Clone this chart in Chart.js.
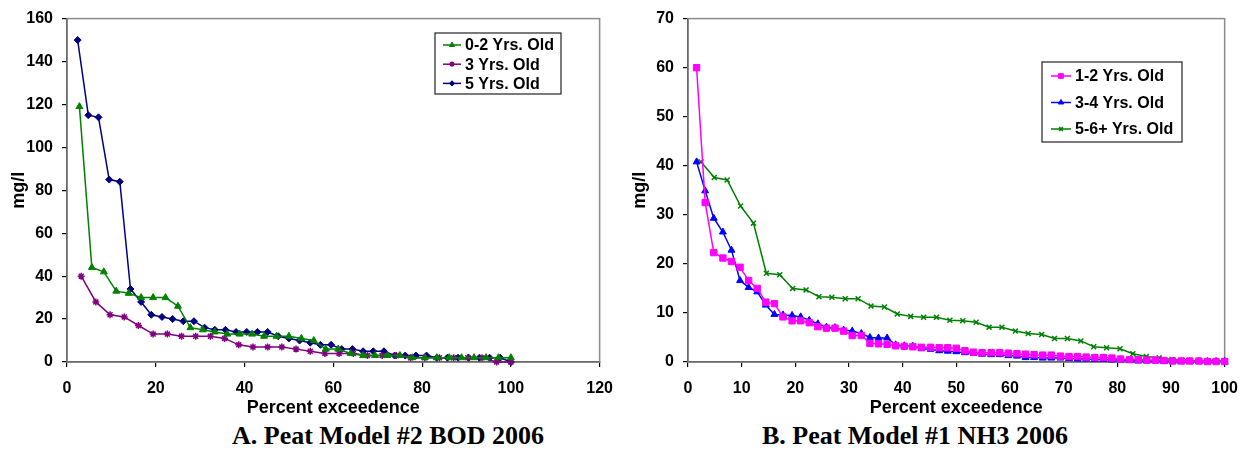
<!DOCTYPE html>
<html>
<head>
<meta charset="utf-8">
<script src="https://cdn.jsdelivr.net/npm/chart.js@4.4.1/dist/chart.umd.min.js"></script>
<style>
  html, body { margin: 0; padding: 0; background: #fff; }
  body { width: 1250px; height: 457px; position: relative; overflow: hidden; }
  .panel { position: absolute; top: 0; width: 625px; height: 420px; }
  #panelA { left: 0; }
  #panelB { left: 625px; }
  .caption {
    position: absolute; top: 421px; line-height: 26px;
    font: bold 26px "Liberation Serif", "Times New Roman", serif;
    white-space: nowrap; transform: translateX(-50%);
  }
</style>
</head>
<body>
<div class="panel" id="panelA"><canvas id="bodChart"></canvas></div>
<div class="panel" id="panelB"><canvas id="nh3Chart"></canvas></div>
<div class="caption" style="left:388px">A. Peat Model #2 BOD 2006</div>
<div class="caption" style="left:915px">B. Peat Model #1 NH3 2006</div>

<script>
// ---------- Data: Peat Model #2, BOD (mg/l) vs percent exceedence ----------
const bodLabels = ['0-2 Yrs. Old', '3 Yrs. Old', '5 Yrs. Old'];

const bodPct02 = [2.8, 5.6, 8.3, 11.1, 13.9, 16.7, 19.4, 22.2, 25.0, 27.8, 30.6, 33.3,
  36.1, 38.9, 41.7, 44.4, 47.2, 50.0, 52.8, 55.6, 58.3, 61.1, 63.9, 66.7, 69.4, 72.2,
  75.0, 77.8, 80.6, 83.3, 86.1, 88.9, 91.7, 94.4, 97.2, 100];
const bodVal02 = [119, 44, 42, 33, 32, 30, 30, 30, 26, 16, 15, 14, 13, 13, 13, 12, 12, 12,
  11, 10, 6, 6, 4, 3, 3, 3, 3, 2, 2, 2, 2, 2, 2, 2, 2, 2];

const bodPct3 = [3.2, 6.5, 9.7, 12.9, 16.1, 19.4, 22.6, 25.8, 29.0, 32.3, 35.5, 38.7, 41.9,
  45.2, 48.4, 51.6, 54.8, 58.1, 61.3, 64.5, 67.7, 71.0, 74.2, 77.4, 80.6, 83.9, 87.1, 90.3,
  93.5, 96.8, 100];
const bodVal3 = [40, 28, 22, 21, 17, 13, 13, 12, 12, 12, 11, 8, 7, 7, 7, 6, 5, 4, 4, 4, 3, 3,
  3, 2, 2, 2, 2, 2, 2, 0, 0];

const bodPct5 = [2.4, 4.8, 7.1, 9.5, 11.9, 14.3, 16.7, 19.0, 21.4, 23.8, 26.2, 28.6, 31.0,
  33.3, 35.7, 38.1, 40.5, 42.9, 45.2, 47.6, 50.0, 52.4, 54.8, 57.1, 59.5, 61.9, 64.3, 66.7,
  69.0, 71.4, 73.8, 76.2, 78.6, 81.0, 83.3, 85.7, 88.1, 90.5, 92.9, 95.2, 97.6, 100];
const bodVal5 = [150, 115, 114, 85, 84, 34, 28, 22, 21, 20, 19, 19, 16, 15, 15, 14, 14, 14,
  14, 12, 11, 10, 9, 8, 8, 6, 6, 5, 5, 5, 3, 3, 3, 3, 2, 2, 2, 2, 2, 2, 2, 0];

const bodXTicks = [0, 20, 40, 60, 80, 100, 120];
const bodYTicks = [0, 20, 40, 60, 80, 100, 120, 140, 160];

// ---------- Data: Peat Model #1, NH3 (mg/l) vs percent exceedence ----------
const nh3Labels = ['1-2 Yrs. Old', '3-4 Yrs. Old', '5-6+ Yrs. Old'];

const nh3Pct62 = [1.6, 3.2, 4.8, 6.5, 8.1, 9.7, 11.3, 12.9, 14.5, 16.1, 17.7, 19.4, 21.0,
  22.6, 24.2, 25.8, 27.4, 29.0, 30.6, 32.3, 33.9, 35.5, 37.1, 38.7, 40.3, 41.9, 43.5, 45.2,
  46.8, 48.4, 50.0, 51.6, 53.2, 54.8, 56.5, 58.1, 59.7, 61.3, 62.9, 64.5, 66.1, 67.7, 69.4,
  71.0, 72.6, 74.2, 75.8, 77.4, 79.0, 80.6, 82.3, 83.9, 85.5, 87.1, 88.7, 90.3, 91.9, 93.5,
  95.2, 96.8, 98.4, 100];
const nh3Val12 = [60, 32.5, 22.3, 21.2, 20.5, 19.3, 16.6, 15.0, 12.2, 11.9, 9.2, 8.4, 8.4,
  8.0, 7.2, 6.9, 6.9, 6.3, 5.4, 5.4, 3.8, 3.7, 3.6, 3.3, 3.2, 3.1, 3.0, 3.0, 2.9, 2.9, 2.8,
  2.3, 2.0, 1.9, 1.9, 1.9, 1.8, 1.7, 1.6, 1.5, 1.4, 1.4, 1.2, 1.1, 1.1, 1.0, 0.9, 0.9, 0.8,
  0.6, 0.5, 0.5, 0.4, 0.4, 0.3, 0.2, 0.2, 0.2, 0.2, 0.1, 0.1, 0.1];
const nh3Val34 = [40.8, 34.9, 29.3, 26.5, 22.8, 16.6, 15.2, 14.3, 11.6, 9.7, 9.6, 9.5, 9.2,
  8.5, 7.8, 7.1, 7.0, 6.5, 6.3, 5.8, 5.0, 4.9, 4.9, 3.5, 3.3, 3.2, 2.7, 2.6, 2.3, 2.2, 2.1,
  1.9, 1.8, 1.6, 1.5, 1.5, 1.3, 1.2, 0.9, 0.9, 0.8, 0.8, 0.8, 0.7, 0.6, 0.6, 0.5, 0.5, 0.4,
  0.4, 0.3, 0.2, 0.2, 0.2, 0.1, 0.1, 0.1, 0.1, 0.1, 0.1, 0.1, 0.1];

const nh3Pct56 = [2.4, 4.9, 7.3, 9.8, 12.2, 14.6, 17.1, 19.5, 22.0, 24.4, 26.8, 29.3, 31.7,
  34.1, 36.6, 39.0, 41.5, 43.9, 46.3, 48.8, 51.2, 53.7, 56.1, 58.5, 61.0, 63.4, 65.9, 68.3,
  70.7, 73.2, 75.6, 78.0, 80.5, 82.9, 85.4, 87.8, 90.2, 92.7, 95.1, 97.6, 100];
const nh3Val56 = [40.8, 37.6, 37.1, 31.8, 28.3, 18.1, 17.8, 15.0, 14.7, 13.3, 13.2, 12.9,
  12.9, 11.4, 11.2, 9.8, 9.3, 9.1, 9.1, 8.5, 8.4, 8.1, 7.1, 7.1, 6.3, 5.8, 5.6, 4.8, 4.8,
  4.3, 3.1, 2.9, 2.7, 1.7, 1.1, 0.85, 0.5, 0.3, 0.2, 0.2, 0.2];

const nh3XTicks = [0, 10, 20, 30, 40, 50, 60, 70, 80, 90, 100];
const nh3YTicks = [0, 10, 20, 30, 40, 50, 60, 70];

// ---------- Helpers ----------
const SANS = '"Liberation Sans", Arial, sans-serif';

function toPoints(xs, ys) {
  return xs.map((x, i) => ({ x, y: ys[i] }));
}

function series(label, xs, ys, color, style, radius) {
  const hollow = style === 'crossRot' || style === 'star';
  return {
    label,
    data: toPoints(xs, ys),
    showLine: true,
    borderColor: color,
    borderWidth: 1.5,
    backgroundColor: color,
    pointStyle: style,
    pointRadius: radius,
    pointBorderWidth: hollow ? 1.5 : 1,
    pointBackgroundColor: color,
    pointBorderColor: color,
    pointHoverRadius: radius,
    clip: false
  };
}

// gray frame around the plot area, Excel style
const plotFrame = {
  id: 'plotFrame',
  beforeDatasetsDraw(chart) {
    const { ctx, chartArea: a } = chart;
    ctx.save();
    ctx.strokeStyle = '#8c8c8c';
    ctx.lineWidth = 1.5;
    ctx.strokeRect(a.left, a.top, a.right - a.left, a.bottom - a.top);
    ctx.restore();
  }
};

// boxed legend placed inside the plot area
const boxLegend = {
  id: 'boxLegend',
  afterDraw(chart, args, o) {
    const ctx = chart.ctx;
    ctx.save();
    ctx.fillStyle = '#fff';
    ctx.fillRect(o.left, o.top, o.width, o.height);
    ctx.strokeStyle = '#222';
    ctx.lineWidth = 1.2;
    ctx.strokeRect(o.left, o.top, o.width, o.height);
    ctx.font = 'bold 16px ' + SANS;
    ctx.textBaseline = 'middle';
    chart.data.datasets.forEach((ds, i) => {
      const y = o.top + o.firstRow + i * o.rowGap;
      const x0 = o.left + o.lineStart;
      ctx.strokeStyle = ds.borderColor;
      ctx.lineWidth = 1.5;
      ctx.beginPath();
      ctx.moveTo(x0, y);
      ctx.lineTo(x0 + o.lineLen, y);
      ctx.stroke();
      ctx.fillStyle = ds.pointBackgroundColor;
      ctx.strokeStyle = ds.pointBorderColor;
      ctx.lineWidth = ds.pointBorderWidth;
      Chart.helpers.drawPoint(ctx, {
        pointStyle: ds.pointStyle, radius: ds.pointRadius * 0.75, rotation: 0,
        borderWidth: ds.pointBorderWidth
      }, x0 + o.lineLen / 2, y);
      ctx.fillStyle = '#000';
      ctx.fillText(ds.label, o.left + o.textStart, y + 1);
    });
    ctx.restore();
  }
};

function buildOptions(cfg) {
  return {
    responsive: true,
    maintainAspectRatio: false,
    animation: false,
    layout: { padding: { top: 16, right: cfg.padRight, left: 0, bottom: 0 } },
    plugins: {
      legend: { display: false },
      tooltip: { enabled: false },
      boxLegend: cfg.legend
    },
    scales: {
      x: {
        type: 'linear',
        min: cfg.xTicks[0],
        max: cfg.xTicks[cfg.xTicks.length - 1],
        afterBuildTicks: s => { s.ticks = cfg.xTicks.map(v => ({ value: v })); },
        afterFit: s => { s.height = 58; },
        grid: { drawOnChartArea: false, drawTicks: true, tickLength: 5, color: '#000', lineWidth: 1.2 },
        border: { display: true, color: '#000', width: 1.5 },
        ticks: { color: '#000', font: { family: SANS, size: 16, weight: 'bold' }, padding: 12, maxRotation: 0 },
        title: {
          display: true, text: 'Percent exceedence', color: '#000',
          font: { family: SANS, size: 18, weight: 'bold' }, padding: { top: 0, bottom: 1 }
        }
      },
      y: {
        type: 'linear',
        min: cfg.yTicks[0],
        max: cfg.yTicks[cfg.yTicks.length - 1],
        afterBuildTicks: s => { s.ticks = cfg.yTicks.map(v => ({ value: v })); },
        afterFit: s => { s.width = cfg.yAxisWidth; },
        grid: { drawOnChartArea: false, drawTicks: true, tickLength: 5, color: '#000', lineWidth: 1.2 },
        border: { display: true, color: '#000', width: 1.5 },
        ticks: { color: '#000', font: { family: SANS, size: 16, weight: 'bold' }, padding: 9 },
        title: {
          display: true, text: 'mg/l', color: '#000',
          font: { family: SANS, size: 18, weight: 'bold' }, padding: { top: cfg.yTitlePad, bottom: 0 }
        }
      }
    }
  };
}

// ---------- Chart A: BOD ----------
new Chart(document.getElementById('bodChart'), {
  type: 'scatter',
  data: {
    datasets: [
      series(bodLabels[0], bodPct02, bodVal02, '#008000', 'triangle', 4),
      series(bodLabels[1], bodPct3, bodVal3, '#800080', 'star', 3.5),
      series(bodLabels[2], bodPct5, bodVal5, '#000080', 'rectRot', 3.5)
    ]
  },
  options: buildOptions({
    xTicks: bodXTicks, yTicks: bodYTicks, padRight: 20, yAxisWidth: 67, yTitlePad: 8,
    legend: { left: 435, top: 33, width: 126, height: 61, firstRow: 12, rowGap: 19.2,
      lineStart: 8, lineLen: 18, textStart: 30 }
  }),
  plugins: [plotFrame, boxLegend]
});

// ---------- Chart B: NH3 ----------
new Chart(document.getElementById('nh3Chart'), {
  type: 'scatter',
  data: {
    datasets: [
      series(nh3Labels[0], nh3Pct62, nh3Val12, '#ff00ff', 'rect', 4.5),
      series(nh3Labels[1], nh3Pct62, nh3Val34, '#0000ff', 'triangle', 4),
      series(nh3Labels[2], nh3Pct56, nh3Val56, '#008000', 'crossRot', 3.5)
    ]
  },
  options: buildOptions({
    xTicks: nh3XTicks, yTicks: nh3YTicks, padRight: 22, yAxisWidth: 63, yTitlePad: 4,
    legend: { left: 417, top: 62, width: 140, height: 80, firstRow: 14, rowGap: 26.5,
      lineStart: 9, lineLen: 20, textStart: 33 }
  }),
  plugins: [plotFrame, boxLegend]
});
</script>
</body>
</html>
